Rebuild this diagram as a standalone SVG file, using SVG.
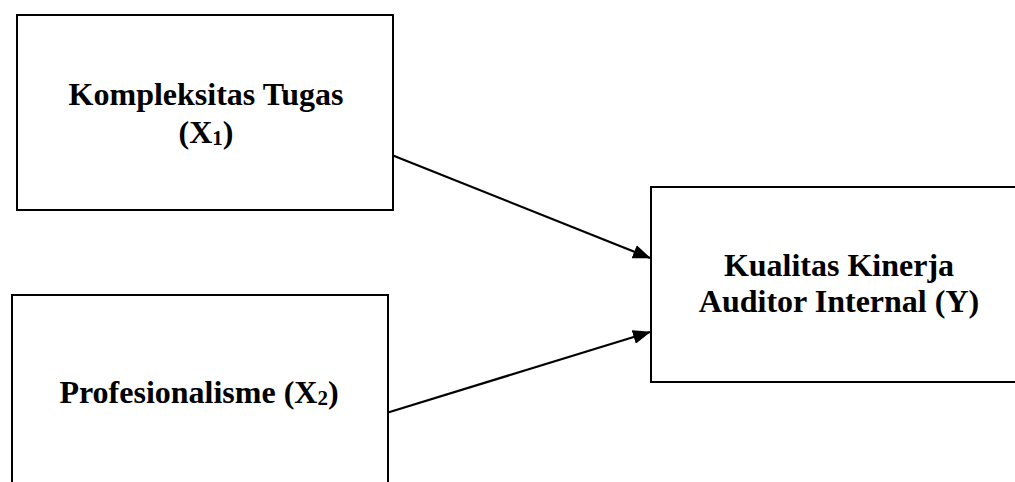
<svg xmlns="http://www.w3.org/2000/svg" width="1015" height="482" viewBox="0 0 1015 482">
  <style>
    .box { fill: #ffffff; stroke: #000000; stroke-width: 2; }
    .lbl { font-family: "Liberation Serif", "Times New Roman", serif; font-weight: bold; font-size: 32px; fill: #000000; text-anchor: middle; }
    .sub { font-size: 21px; }
    .conn { stroke: #000000; stroke-width: 2.2; fill: none; marker-end: url(#arrow); }
  </style>
  <defs>
    <marker id="arrow" markerUnits="userSpaceOnUse" markerWidth="18" markerHeight="14" refX="17" refY="7" orient="auto">
      <path d="M0,0 L18,7 L0,14 Z" fill="#000000"/>
    </marker>
  </defs>
  <rect width="1015" height="482" fill="#ffffff"/>
  <g id="node-x1">
    <rect class="box" x="17" y="15" width="376" height="195"/>
    <text class="lbl" x="206" y="105">Kompleksitas Tugas</text>
    <text class="lbl" x="206" y="143">(X<tspan class="sub" dy="2">1</tspan><tspan dy="-2">)</tspan></text>
  </g>
  <g id="node-x2">
    <rect class="box" x="12" y="295" width="376" height="200"/>
    <text class="lbl" x="199" y="403">Profesionalisme (X<tspan class="sub" dy="2">2</tspan><tspan dy="-2">)</tspan></text>
  </g>
  <g id="node-y">
    <rect class="box" x="651" y="187" width="380" height="195"/>
    <text class="lbl" x="839" y="276">Kualitas Kinerja</text>
    <text class="lbl" x="839" y="312">Auditor Internal (Y)</text>
  </g>
  <g id="connectors">
    <line class="conn" x1="393" y1="155.5" x2="650" y2="258"/>
    <line class="conn" x1="388" y1="412.5" x2="650" y2="332"/>
  </g>
</svg>
